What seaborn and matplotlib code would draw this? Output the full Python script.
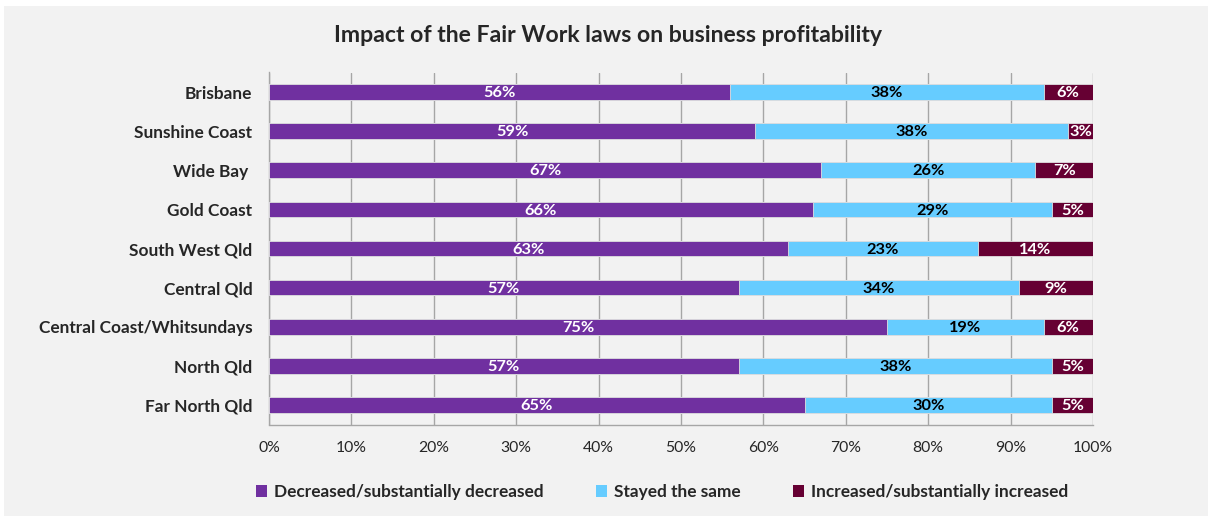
import matplotlib
matplotlib.use("Agg")
import matplotlib.pyplot as plt
from matplotlib.patches import Rectangle, Patch
from matplotlib.ticker import FixedLocator, PercentFormatter
import numpy as np
import pandas as pd
import seaborn as sns

regions = ["Brisbane", "Sunshine Coast", "Wide Bay ", "Gold Coast", "South West Qld",
           "Central Qld", "Central Coast/Whitsundays", "North Qld", "Far North Qld"]
decreased = [56, 59, 67, 66, 63, 57, 75, 57, 65]
same = [38, 38, 26, 29, 23, 34, 19, 38, 30]
increased = [6, 3, 7, 5, 14, 9, 6, 5, 5]

series_names = ["Decreased/substantially decreased", "Stayed the same",
                "Increased/substantially increased"]
colors = ["#7030A0", "#66CCFF", "#660033"]
label_colors = ["white", "black", "white"]

sns.set_style("white")
plt.rcParams["font.family"] = ["Lato", "DejaVu Sans"]

df = pd.DataFrame({"region": regions, "dec": decreased, "same": same, "inc": increased})
df["c1"] = df["dec"]
df["c2"] = df["dec"] + df["same"]
df["c3"] = df["c2"] + df["inc"]

fig = plt.figure(figsize=(12.08, 5.16), dpi=100)
fig.patch.set_facecolor("white")
fig.patches.append(Rectangle((4 / 1208, 0), 1, 510 / 516,
                             transform=fig.transFigure, facecolor="#F2F2F2",
                             edgecolor="none", zorder=-10))

ax = fig.add_axes([269 / 1208, 1 - 424.5 / 516, 824 / 1208, 352 / 516])
ax.patch.set_alpha(0)

# stacked bars drawn as layered cumulative totals
for col, color in zip(["c3", "c2", "c1"], colors[::-1]):
    sns.barplot(data=df, x=col, y="region", orient="h", color=color, width=0.4,
                saturation=1, edgecolor="#E0E0E0", linewidth=0.6, ax=ax, zorder=3)

ax.set_xlim(0, 100)
ax.set_ylim(8.5, -0.5)
ax.set_xlabel("")
ax.set_ylabel("")

ax.xaxis.set_major_locator(FixedLocator(np.arange(0, 101, 10)))
ax.xaxis.set_major_formatter(PercentFormatter(decimals=0))
ax.grid(axis="x", color="#A6A6A6", linewidth=1.0, zorder=0)
ax.set_axisbelow(True)

ax.yaxis.set_minor_locator(FixedLocator(np.arange(-0.5, 9, 1)))
ax.tick_params(axis="y", which="major", length=0, pad=12, labelsize=12.4)
ax.tick_params(axis="y", which="minor", length=5, color="#A6A6A6", width=1)
ax.tick_params(axis="x", which="major", length=5, color="#A6A6A6", width=1,
               labelsize=11.3, pad=7, direction="out")
for lbl in ax.get_yticklabels():
    lbl.set_fontweight("bold")

for side in ["top", "right"]:
    ax.spines[side].set_visible(False)
for side in ["left", "bottom"]:
    ax.spines[side].set_color("#A6A6A6")
    ax.spines[side].set_linewidth(1.0)

# segment value labels
for i, row in df.iterrows():
    starts = [0, row["c1"], row["c2"]]
    vals = [row["dec"], row["same"], row["inc"]]
    for s, v, tc in zip(starts, vals, label_colors):
        ax.text(s + v / 2, i + 0.03, f"{v}%", ha="center", va="center", color=tc,
                fontsize=11.8, fontweight="bold", zorder=5)

fig.text(608 / 1208, 1 - 36 / 516, "Impact of the Fair Work laws on business profitability",
         ha="center", va="center", fontsize=16.6, fontweight="bold")

handles = [Patch(facecolor=c, edgecolor="none") for c in colors]
leg = fig.legend(handles, series_names, loc="center", bbox_to_anchor=(662 / 1208, 1 - 492 / 516),
                 ncol=3, frameon=False, handlelength=0.65, handleheight=0.65,
                 handletextpad=0.4, columnspacing=3.05, prop={"weight": "bold", "size": 12.4})

fig.savefig("out.png", dpi=100, facecolor=fig.get_facecolor())
